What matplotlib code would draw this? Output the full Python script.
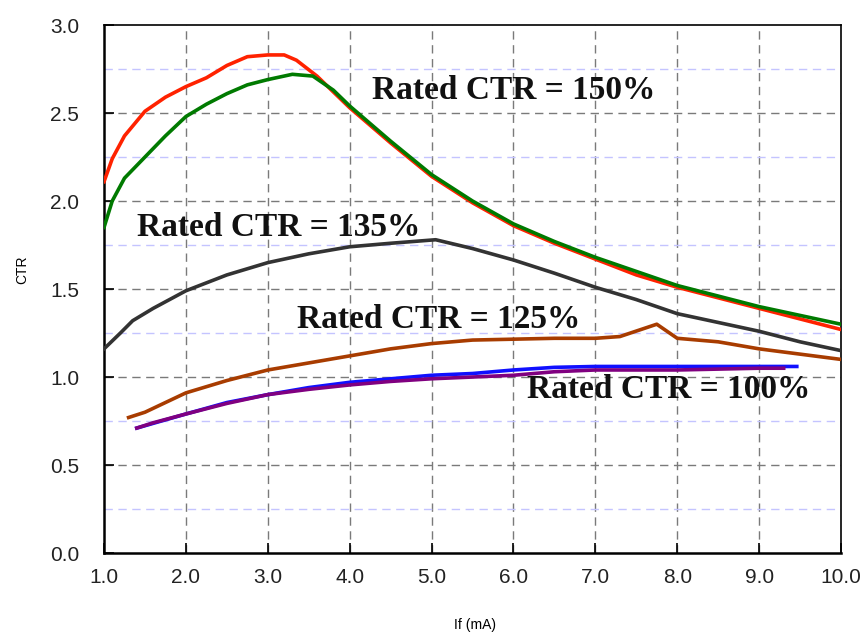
import matplotlib.pyplot as plt
import numpy as np

# values
x_150_red = [1.0, 1.1, 1.25, 1.5, 1.75, 2.0, 2.25, 2.5, 2.75, 3.0, 3.2, 3.35, 3.6, 3.8, 4.0,
             4.5, 5.0, 5.5, 6.0, 6.5, 7.0, 7.5, 8.0, 8.5, 9.0, 9.5, 10.0]
y_150_red = [2.11, 2.24, 2.37, 2.51, 2.59, 2.65, 2.70, 2.77, 2.82, 2.83, 2.83, 2.80, 2.71, 2.62, 2.53,
             2.33, 2.14, 1.99, 1.86, 1.76, 1.67, 1.58, 1.51, 1.45, 1.39, 1.33, 1.27]

x_150_green = [1.0, 1.1, 1.25, 1.5, 1.75, 2.0, 2.25, 2.5, 2.75, 3.0, 3.3, 3.55, 3.8, 4.0,
               4.5, 5.0, 5.5, 6.0, 6.5, 7.0, 7.5, 8.0, 8.5, 9.0, 9.5, 10.0]
y_150_green = [1.85, 2.00, 2.13, 2.25, 2.37, 2.48, 2.55, 2.61, 2.66, 2.69, 2.72, 2.71, 2.63, 2.54,
               2.34, 2.15, 2.00, 1.87, 1.77, 1.68, 1.60, 1.52, 1.46, 1.40, 1.35, 1.30]

x_135 = [1.0, 1.2, 1.35, 1.6, 2.0, 2.5, 3.0, 3.5, 4.0, 4.5, 5.05, 5.5, 6.0, 6.5, 7.0,
         7.5, 8.0, 8.5, 9.0, 9.5, 10.0]
y_135 = [1.16, 1.25, 1.32, 1.39, 1.49, 1.58, 1.65, 1.70, 1.74, 1.76, 1.78, 1.73, 1.665, 1.59, 1.51,
         1.44, 1.36, 1.31, 1.26, 1.20, 1.15]

x_125 = [1.3, 1.5, 2.0, 2.5, 3.0, 3.5, 4.0, 4.5, 5.0, 5.5, 6.0, 6.5, 7.0, 7.3, 7.75,
         8.0, 8.5, 9.0, 9.5, 10.0]
y_125 = [0.77, 0.80, 0.91, 0.98, 1.04, 1.08, 1.12, 1.16, 1.19, 1.21, 1.215, 1.22, 1.22, 1.23, 1.30,
         1.22, 1.20, 1.16, 1.13, 1.10]

x_100_blue = [1.4, 2.0, 2.5, 3.0, 3.5, 4.0, 4.5, 5.0, 5.5, 6.0, 6.5, 7.0, 7.5, 8.0, 8.5, 9.0, 9.46]
y_100_blue = [0.71, 0.79, 0.855, 0.90, 0.94, 0.97, 0.99, 1.01, 1.02, 1.04, 1.055, 1.06, 1.06, 1.06,
              1.06, 1.06, 1.06]

x_100_purple = [1.4, 1.6, 2.0, 2.5, 3.0, 3.5, 4.0, 4.5, 5.0, 5.5, 6.0, 6.5, 7.0, 7.5, 8.0, 8.5, 9.0, 9.3]
y_100_purple = [0.71, 0.74, 0.79, 0.85, 0.90, 0.93, 0.955, 0.975, 0.99, 1.00, 1.01, 1.03, 1.04, 1.04,
                1.04, 1.045, 1.05, 1.05]

labels = ["Rated CTR = 150%", "Rated CTR = 135%", "Rated CTR = 125%", "Rated CTR = 100%"]
label_pos = [(4.27, 2.63), (1.40, 1.85), (3.36, 1.325), (6.16, 0.93)]

fig = plt.figure(figsize=(8.64, 6.35), dpi=100)
ax = fig.add_axes([0.1204, 0.1291, 0.853, 0.8315])

# grid: grey dashed at major, lavender dashed in between
for gx in np.arange(2, 10):
    ax.axvline(gx, color='#7a7a7a', lw=1.0, ls=(0, (6, 4)), zorder=0)
for gy in np.arange(0.5, 3.0, 0.5):
    ax.axhline(gy, color='#7a7a7a', lw=1.0, ls=(0, (6, 4)), zorder=0)
for gy in np.arange(0.25, 3.0, 0.5):
    ax.axhline(gy, color='#c4c4ff', lw=1.0, ls=(0, (6, 4)), zorder=0)

lw = 2.6
ax.plot(x_100_blue, y_100_blue, color='#1010ff', lw=lw, zorder=2)
ax.plot(x_100_purple, y_100_purple, color='#800080', lw=lw, zorder=3)
ax.plot(x_125, y_125, color='#a83c00', lw=lw, zorder=3)
ax.plot(x_135, y_135, color='#333333', lw=lw, zorder=3)
ax.plot(x_150_red, y_150_red, color='#ff2200', lw=lw, zorder=3)
ax.plot(x_150_green, y_150_green, color='#007a00', lw=lw, zorder=4)

for txt, (tx, ty) in zip(labels, label_pos):
    ax.text(tx, ty, txt, fontsize=24, fontweight='bold', family='Liberation Serif',
            ha='left', va='center', color='#111111', zorder=5)

ax.set_xlim(1, 10)
ax.set_ylim(0, 3)
ax.set_xticks(np.arange(1, 11))
ax.set_xticklabels([f"{v:.1f}" for v in np.arange(1, 11)])
ax.set_yticks(np.arange(0, 3.01, 0.5))
ax.set_yticklabels([f"{v:.1f}" for v in np.arange(0, 3.01, 0.5)])
ax.tick_params(axis='both', direction='in', length=7, width=1.2, labelsize=15,
               labelcolor='#222222')
ax.tick_params(axis='y', pad=18)
ax.tick_params(axis='x', pad=11)
for t in ax.get_xticklabels() + ax.get_yticklabels():
    t.set_family('Liberation Sans')

for side in ['left', 'bottom']:
    ax.spines[side].set_linewidth(1.8)
for side in ['top', 'right']:
    ax.spines[side].set_linewidth(1.2)

fig.text(0.026, 0.575, "CTR", rotation=90, fontsize=10, family='Liberation Sans',
         ha='center', va='center')
fig.text(0.55, 0.016, "If (mA)", fontsize=10, family='Liberation Sans',
         ha='center', va='center')

fig.savefig("out.png", dpi=100)
